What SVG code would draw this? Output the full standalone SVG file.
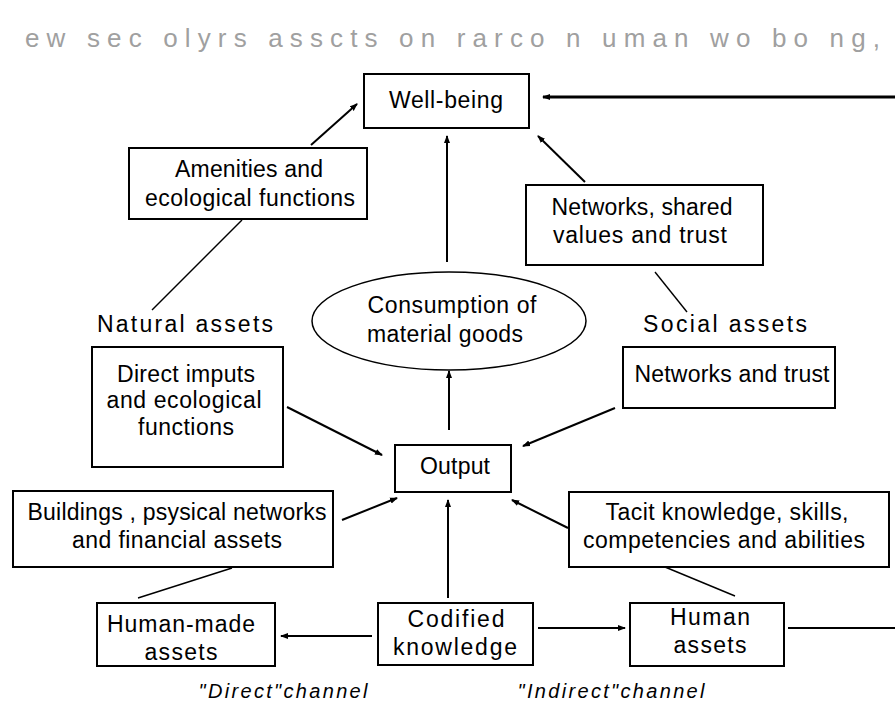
<svg xmlns="http://www.w3.org/2000/svg" width="895" height="709" viewBox="0 0 895 709">
<style>
.box{fill:#fff;stroke:#000;stroke-width:2}
.t{font-family:"Liberation Sans",Arial,sans-serif;font-size:23px;fill:#000;text-anchor:middle}
.it{font-style:italic;font-size:20px}
.title{font-family:"Liberation Sans",Arial,sans-serif;font-size:26px;fill:#a0a0a0}
.arr{stroke:#000;stroke-width:2;fill:none;marker-end:url(#ah)}
.ln{stroke:#000;stroke-width:1.4;fill:none}
</style>
<defs>
<marker id="ah" markerWidth="8" markerHeight="7" refX="7" refY="3.5" orient="auto" markerUnits="userSpaceOnUse">
<path d="M0,0.5 L8,3.5 L0,6.5 z" fill="#000"/>
</marker>
</defs>
<rect width="895" height="709" fill="#fff"/>
<text class="title" x="25" y="47" textLength="855" lengthAdjust="spacing">ew sec olyrs asscts on rarco n uman wo  bo ng,</text>

<g id="connectors">
<path class="arr" style="stroke-width:3" d="M895,97 L543,97"/>
<path class="arr" d="M311,145 L357,104"/>
<path class="arr" d="M585,182 L538,136"/>
<path class="arr" d="M447,262 L447,136"/>
<path class="ln" d="M242,220 L152,310"/>
<path class="ln" d="M655,272 L687,312"/>
<path class="arr" d="M449,430 L449,371"/>
<path class="arr" d="M287,407 L382,455"/>
<path class="arr" d="M615,408 L523,446"/>
<path class="arr" d="M342,520 L397,498"/>
<path class="arr" d="M568,528 L512,500"/>
<path class="arr" d="M448,598 L448,500"/>
<path class="ln" d="M232,568 L138,598"/>
<path class="ln" d="M665,567 L735,596"/>
<path class="arr" d="M372,636 L281,636"/>
<path class="arr" d="M538,628 L625,628"/>
<path class="ln" style="stroke-width:2" d="M788,628 L895,628"/>
</g>

<g id="wellbeing">
<rect class="box" x="364" y="74" width="165" height="54"/>
<text class="t" x="446" y="108" textLength="114" lengthAdjust="spacing">Well-being</text>
</g>
<g id="amenities">
<rect class="box" x="129" y="148" width="238" height="71"/>
<text class="t" x="249" y="177" textLength="148" lengthAdjust="spacing">Amenities and</text>
<text class="t" x="250" y="206" textLength="210" lengthAdjust="spacing">ecological functions</text>
</g>
<g id="networks-shared">
<rect class="box" x="526" y="185" width="237" height="80"/>
<text class="t" x="642" y="215" textLength="181" lengthAdjust="spacing">Networks, shared</text>
<text class="t" x="640" y="243" textLength="174" lengthAdjust="spacing">values and trust</text>
</g>
<g id="consumption">
<ellipse cx="449" cy="321" rx="137" ry="49" fill="#fff" stroke="#000" stroke-width="1.5"/>
<text class="t" x="452" y="313" textLength="169" lengthAdjust="spacing">Consumption of</text>
<text class="t" x="445" y="342" textLength="156" lengthAdjust="spacing">material goods</text>
</g>
<g id="natural-assets">
<text class="t" x="185" y="332" textLength="176" lengthAdjust="spacing">Natural assets</text>
</g>
<g id="social-assets">
<text class="t" x="725" y="332" textLength="164" lengthAdjust="spacing">Social assets</text>
</g>
<g id="direct-imputs">
<rect class="box" x="92" y="347" width="191" height="120"/>
<text class="t" x="186" y="382" textLength="138" lengthAdjust="spacing">Direct imputs</text>
<text class="t" x="184" y="408" textLength="155" lengthAdjust="spacing">and ecological</text>
<text class="t" x="186" y="435" textLength="96" lengthAdjust="spacing">functions</text>
</g>
<g id="networks-trust">
<rect class="box" x="623" y="347" width="212" height="61"/>
<text class="t" x="732" y="382" textLength="195" lengthAdjust="spacing">Networks and trust</text>
</g>
<g id="output">
<rect class="box" x="395" y="445" width="116" height="47"/>
<text class="t" x="455" y="474" textLength="70" lengthAdjust="spacing">Output</text>
</g>
<g id="buildings">
<rect class="box" x="13" y="491" width="320" height="76"/>
<text class="t" x="177" y="520" textLength="299" lengthAdjust="spacing">Buildings , psysical networks</text>
<text class="t" x="177" y="548" textLength="210" lengthAdjust="spacing">and financial assets</text>
</g>
<g id="tacit">
<rect class="box" x="569" y="492" width="320" height="75"/>
<text class="t" x="727" y="520" textLength="243" lengthAdjust="spacing">Tacit knowledge, skills,</text>
<text class="t" x="724" y="548" textLength="282" lengthAdjust="spacing">competencies and abilities</text>
</g>
<g id="human-made">
<rect class="box" x="97" y="603" width="178" height="63"/>
<text class="t" x="181" y="632" textLength="148" lengthAdjust="spacing">Human-made</text>
<text class="t" x="181" y="660" textLength="73" lengthAdjust="spacing">assets</text>
</g>
<g id="codified">
<rect class="box" x="378" y="603" width="155" height="62"/>
<text class="t" x="456" y="627" textLength="97" lengthAdjust="spacing">Codified</text>
<text class="t" x="455" y="655" textLength="124" lengthAdjust="spacing">knowledge</text>
</g>
<g id="human-assets">
<rect class="box" x="630" y="603" width="154" height="63"/>
<text class="t" x="710" y="625" textLength="80" lengthAdjust="spacing">Human</text>
<text class="t" x="710" y="653" textLength="73" lengthAdjust="spacing">assets</text>
</g>
<g id="direct-channel">
<text class="t it" x="283" y="698" textLength="169" lengthAdjust="spacing">"Direct"channel</text>
</g>
<g id="indirect-channel">
<text class="t it" x="611" y="698" textLength="187" lengthAdjust="spacing">"Indirect"channel</text>
</g>
</svg>
